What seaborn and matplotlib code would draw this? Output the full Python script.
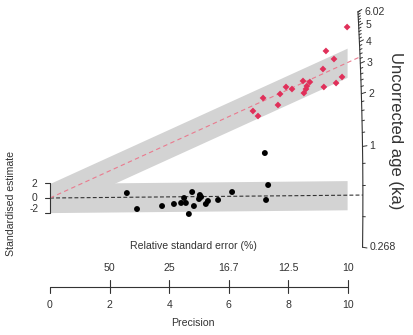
import numpy as np
import pandas as pd
import matplotlib
matplotlib.use("Agg")
import matplotlib.pyplot as plt
import seaborn as sns

# Radial (Galbraith) plot of two age populations
reference_age = 0.51                      # ka, age of the z = 0 reference line
central_age = {"young": 0.53, "old": 3.27}  # ka, central age of each population

young_precision = [7.21, 7.32, 7.25, 6.11, 5.64, 5.30, 5.23, 5.03, 5.07, 5.00,
                   4.77, 4.83, 4.66, 4.50, 4.56, 4.40, 4.16, 3.76, 2.92, 2.58]
young_std_est = [6.16, 1.78, -0.27, 0.82, -0.27, -0.41, -0.82, 0.41, 0.14, -0.14,
                 0.82, -1.10, -2.19, 0.00, -0.68, -0.68, -0.82, -1.10, -1.51, 0.68]

old_precision = [9.97, 9.26, 9.53, 9.16, 9.80, 9.60, 9.19, 8.49, 8.72, 8.62,
                 8.59, 8.52, 8.12, 7.92, 7.72, 7.65, 7.15, 6.81, 6.98]
old_std_est = [23.42, 20.14, 19.04, 17.67, 16.58, 15.75, 15.21, 16.03, 15.89, 15.34,
               14.93, 14.38, 14.93, 15.21, 14.25, 12.74, 13.70, 11.92, 11.23]

precision_ticks = [0, 2, 4, 6, 8, 10]
rse_tick_precision = [2, 4, 6, 8, 10]
rse_labels = ["50", "25", "16.7", "12.5", "10"]
z_ticks = [-2, 0, 2]
age_major = [0.268, 1, 2, 3, 4, 5, 6.02]
age_major_labels = ["0.268", "1", "2", "3", "4", "5", "6.02"]
age_minor = [a for a in np.round(np.arange(0.4, 6.01, 0.2), 1) if a not in (1, 2, 3, 4, 5)]

sns.set_style("white")
plt.rcParams["font.family"] = ["Liberation Sans", "DejaVu Sans"]

W, H = 414, 335
fig = plt.figure(figsize=(W / 100, H / 100), dpi=100)
ax = fig.add_axes([0, 0, 1, 1])

# scale: pixels per unit along precision and standardised estimate
PX_X, PX_Y = 29.8, 7.3
OX, OY = 50, 198
XLIM = (-OX / PX_X, (W - OX) / PX_X)
YLIM = ((OY - H) / PX_Y, OY / PX_Y)


def P(px, py):
    return (px - OX) / PX_X, (OY - py) / PX_Y


z0 = np.log(reference_age)
ARC_A, ARC_B = 10.5, 144.0


def slope(t):
    return np.log(t) - z0


def arc_x(s):
    return 1.0 / np.sqrt(1.0 / ARC_A ** 2 + s ** 2 / ARC_B ** 2)


grey = "#d3d3d3"
ink = "#333333"
red = "#e0305a"
red_line = "#ea7a8e"

xmax = max(max(young_precision), max(old_precision))
xs = np.linspace(0, xmax, 50)
for grp in ("old", "young"):
    s = slope(central_age[grp])
    ax.fill_between(xs, s * xs - 2, s * xs + 2, color=grey, lw=0, zorder=1)

# central-age lines from the origin to the age arc
for grp, col, dash in (("young", ink, (0, (3.5, 2))), ("old", red_line, (0, (4, 3)))):
    s = slope(central_age[grp])
    xe = arc_x(s)
    ax.plot([0, xe], [0, s * xe], color=col, lw=0.8, linestyle=dash, zorder=2)

df = pd.DataFrame({
    "precision": young_precision + old_precision,
    "std_est": young_std_est + old_std_est,
    "group": ["young"] * len(young_precision) + ["old"] * len(old_precision),
})
sns.scatterplot(data=df, x="precision", y="std_est", hue="group", style="group",
                size="group", sizes={"young": 18, "old": 12},
                markers={"young": "o", "old": "D"},
                palette={"young": "black", "old": red},
                edgecolor="none", legend=False, ax=ax, zorder=3)

fs = 7.6
# standardised-estimate bracket
tick_l = 5 / PX_X
ax.plot([0, 0], [z_ticks[0], z_ticks[-1]], color=ink, lw=0.8)
for z in z_ticks:
    ax.plot([-tick_l, 0], [z, z], color=ink, lw=0.8)
for z, py in zip(z_ticks, (209, 197.5, 184)):
    ax.text(*P(34, py), str(z), ha="center", va="center", fontsize=fs - 0.2, color=ink)
ax.text(*P(11, 203), "Standardised estimate", rotation=90, ha="center", va="center",
        fontsize=fs, color=ink)

# precision / relative standard error axis
y_axis = P(0, 287)[1]
ax.plot([precision_ticks[0], precision_ticks[-1]], [y_axis, y_axis], color=ink, lw=0.8)
for p in precision_ticks:
    ax.plot([p, p], [y_axis, P(0, 293)[1]], color=ink, lw=0.8)
    ax.text(p, P(0, 305)[1], str(p), ha="center", va="center", fontsize=fs, color=ink)
for p, lab in zip(rse_tick_precision, rse_labels):
    ax.plot([p, p], [y_axis, P(0, 280)[1]], color=ink, lw=0.8)
    ax.text(p, P(0, 268)[1], lab, ha="center", va="center", fontsize=fs, color=ink)
ax.text(*P(193, 246), "Relative standard error (%)", ha="center", va="center",
        fontsize=fs, color=ink)
ax.text(*P(193, 323), "Precision", ha="center", va="center", fontsize=fs, color=ink)

# age arc
ss = np.linspace(slope(age_major[0]), slope(age_major[-1]), 200)
ax.plot(arc_x(ss), ss * arc_x(ss), color=ink, lw=0.8, zorder=2)


def tick(t, length_px):
    s = slope(t)
    x0 = arc_x(s)
    dx = length_px / np.hypot(PX_X, PX_Y * s)
    ax.plot([x0, x0 + dx], [s * x0, s * (x0 + dx)], color=ink, lw=0.7)
    return x0 + dx, s * x0


for t in age_minor:
    tick(t, 2.5)
for t, lab in zip(age_major, age_major_labels):
    xe, ye = tick(t, 4.5)
    ax.text(xe + 2.5 / PX_X, ye, lab, ha="left", va="center", fontsize=fs, color=ink)

ax.text(*P(396, 131), "Uncorrected age (ka)", rotation=-90, ha="center", va="center",
        fontsize=12, color=ink)

ax.set_xlim(*XLIM)
ax.set_ylim(*YLIM)
ax.axis("off")
fig.savefig("out.png", dpi=100)
